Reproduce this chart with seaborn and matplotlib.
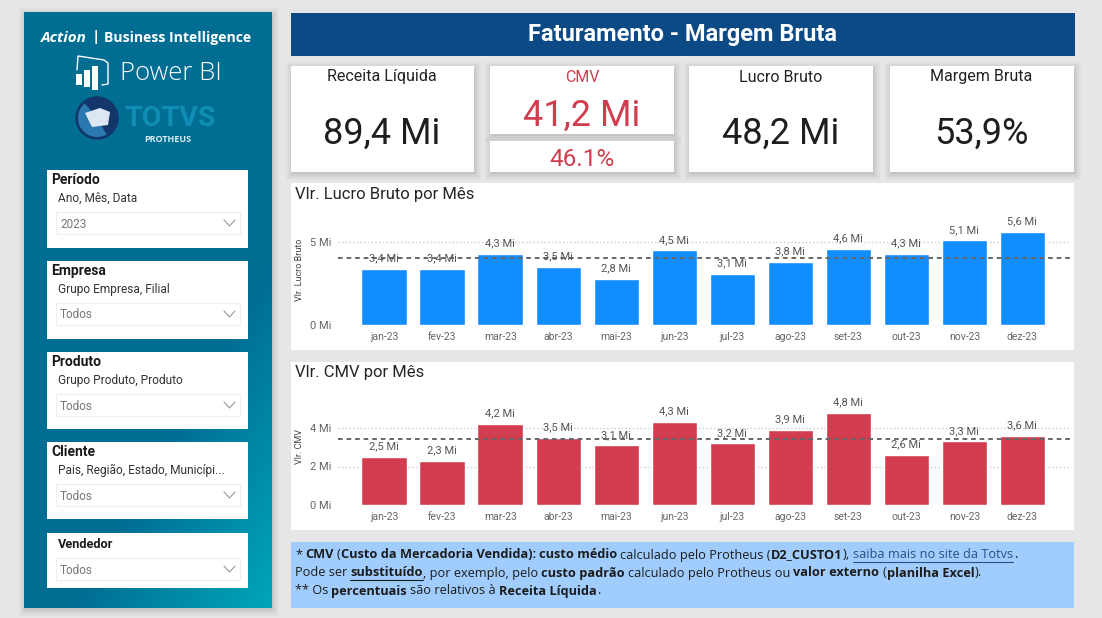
import numpy as np
import pandas as pd
import seaborn as sns
import matplotlib.pyplot as plt
from matplotlib.patches import Rectangle, Circle, Wedge, Polygon

meses = ["jan-23", "fev-23", "mar-23", "abr-23", "mai-23", "jun-23",
         "jul-23", "ago-23", "set-23", "out-23", "nov-23", "dez-23"]
lucro = [3.4, 3.4, 4.3, 3.5, 2.8, 4.5, 3.1, 3.8, 4.6, 4.3, 5.1, 5.6]
cmv = [2.5, 2.3, 4.2, 3.5, 3.1, 4.3, 3.2, 3.9, 4.8, 2.6, 3.3, 3.6]
lucro_media = 4.02
cmv_media = 3.43
lucro_ticks = [0, 5]
cmv_ticks = [0, 2, 4]

sns.set_theme(style="white")
plt.rcParams["font.family"] = ["Roboto", "DejaVu Sans"]

W, H = 1102, 618
fig = plt.figure(figsize=(W / 100, H / 100), dpi=100, facecolor="#e6e6e6")
bg = fig.add_axes([0, 0, 1, 1])
bg.set_xlim(0, W)
bg.set_ylim(H, 0)
bg.axis("off")


def box(x0, y0, x1, y1, color="white", shadow=False, z=2):
    if shadow:
        for i, a in zip([7, 5, 3, 1], [0.05, 0.07, 0.09, 0.12]):
            bg.add_patch(Rectangle((x0 - i + 2, y0 - i + 3), x1 - x0 + 2 * i - 2, y1 - y0 + 2 * i - 2,
                                   color="#777777", alpha=a, lw=0, zorder=z - 0.5))
    bg.add_patch(Rectangle((x0, y0), x1 - x0, y1 - y0, color=color, lw=0, zorder=z))


def txt(x, y, s, size, color="#222222", ha="left", va="center", weight="normal", **kw):
    return bg.text(x, y, s, fontsize=size, color=color, ha=ha, va=va, weight=weight, zorder=6, **kw)


# sidebar
box(24, 12, 272, 608, color="#006f94", shadow=True)
u, v = np.meshgrid(np.linspace(0, 1, 120), np.linspace(0, 1, 200))
t = np.clip((u + 1.4 * v - 1.6) / 0.8, 0, 1)[..., None]
grad = (1 - t) * np.array([0, 0.43, 0.58]) + t * np.array([0, 0.65, 0.73])
bg.imshow(grad, extent=(24, 272, 608, 12), aspect="auto", zorder=2.1, interpolation="bilinear")
bg.set_xlim(0, W)
bg.set_ylim(H, 0)

txt(41, 38, "Action", 11, "white", weight="bold", style="italic", family="Open Sans")
txt(92, 37, "|", 11, "white", weight="bold", family="Open Sans")
txt(104, 38, "Business Intelligence", 10.1, "white", weight="bold", family="Open Sans")

# marca do Power BI
for x0, y0, y1 in [(76, 74, 85), (84, 70, 87), (92, 66, 90)]:
    box(x0, y0, x0 + 5.5, y1, z=3)
bg.plot([77, 78, 104, 108, 108, 102], [70, 56, 60, 63, 84, 85], color="white", lw=1, zorder=3)
txt(120, 74, "Power BI", 18.5, "white", family="Open Sans", weight="light")

# marca da Totvs
bg.add_patch(Circle((97, 118), 21, color="#14376b", zorder=3))
bg.add_patch(Wedge((97, 118), 19, 60, 230, color="#2a78b0", lw=0, zorder=3.1))
bg.add_patch(Polygon([[85, 113], [100, 108], [110, 112], [108, 125], [92, 127]], color="#dde7f2", lw=0, zorder=3.2))
txt(124, 118, "TOTVS", 20.5, "#0f8db5", weight="bold")
txt(168, 139, "PROTHEUS", 6.5, "#dceef5", ha="center", weight="bold", family="Open Sans")

# filtros
slicers = [
    (170, 248, "Período", "Ano, Mês, Data", "2023"),
    (261, 339, "Empresa", "Grupo Empresa, Filial", "Todos"),
    (352, 429, "Produto", "Grupo Produto, Produto", "Todos"),
    (442, 519, "Cliente", "Pais, Região, Estado, Municípi...", "Todos"),
]
for top, bottom, titulo, campos, valor in slicers:
    box(47, top, 248, bottom, z=3)
    txt(51, top + 10, titulo, 10, "#1a1a1a", weight="bold")
    txt(58, top + 28.5, campos, 8.6, "#333333")
    bg.add_patch(Rectangle((55.5, top + 41.5), 184, 22, fc="white", ec="#efefef", lw=0.8, zorder=4))
    txt(60, top + 54, valor, 8.5, "#777777")
    bg.plot([224, 229.5, 235], [top + 50, top + 56, top + 50], color="#999999", lw=0.8, zorder=5)

box(47, 533, 248, 588, z=3)
txt(58, 544, "Vendedor", 9.2, "#1a1a1a", weight="bold")
bg.add_patch(Rectangle((55.5, 557.5), 184, 22, fc="white", ec="#efefef", lw=0.8, zorder=4))
txt(60, 570, "Todos", 8.5, "#777777")
bg.plot([224, 229.5, 235], [566, 572, 566], color="#999999", lw=0.8, zorder=5)

# titulo
box(291, 13, 1075, 56, color="#0b4a84")
txt(683, 35, "Faturamento - Margem Bruta", 17, "white", ha="center", weight="bold")

# cards
RED = "#d13d4f"
for x0, x1, titulo, valor in [(291, 474, "Receita Líquida", "89,4 Mi"),
                              (689, 873, "Lucro Bruto", "48,2 Mi"),
                              (890, 1074, "Margem Bruta", "53,9%")]:
    box(x0, 66, x1, 172, shadow=True)
    txt((x0 + x1) / 2 - 0.5, 77, titulo, 11.5, ha="center")
    txt((x0 + x1) / 2 - 0.5, 134, valor, 26, "#1e1e1e", ha="center")
box(490, 66, 674, 134, shadow=True)
box(490, 141, 674, 172, shadow=True)
txt(582, 77, "CMV", 11.5, RED, ha="center")
txt(582, 116, "41,2 Mi", 26, RED, ha="center")
txt(582, 160, "46.1%", 17.5, RED, ha="center")

# paineis dos graficos
box(291, 183, 1074, 350)
box(291, 362, 1074, 530)
txt(295, 194, "Vlr. Lucro Bruto por Mês", 12, "#252525")
txt(295, 373, "Vlr. CMV por Mês", 12, "#252525")


def chart(top, zero, px_unit, valores, media, ticks, cor):
    # axes em pixels da imagem: x de 338 a 1070, y de top ate a linha do zero
    ax = fig.add_axes([338 / W, 1 - zero / H, (1070 - 338) / W, (zero - top) / H])
    ax.patch.set_alpha(0)
    df = pd.DataFrame({"mes": meses, "valor": valores})
    sns.barplot(data=df, x="mes", y="valor", color=cor, saturation=1, width=0.79, ax=ax, zorder=3)
    ax.set_xlim(-0.80, 11.82)
    ax.set_ylim(0, (zero - top) / px_unit)
    ax.set_yticks(ticks, [f"{v} Mi" for v in ticks])
    ax.set_xlabel("")
    ax.set_ylabel("")
    ax.tick_params(axis="x", length=0, labelsize=7.5, labelcolor="#666666", pad=5)
    ax.tick_params(axis="y", length=0, labelsize=8, labelcolor="#666666", pad=5)
    ax.grid(axis="y", color="#cccccc", ls=":", lw=1, zorder=0)
    sns.despine(ax=ax, left=True, bottom=True)
    ax.bar_label(ax.containers[0], labels=[f"{v:.1f} Mi".replace(".", ",") for v in valores],
                 fontsize=8, color="#555555", padding=4, zorder=6)
    ax.axhline(media, color="#666666", ls=(0, (2.4, 2)), lw=1.4, zorder=5)
    return ax


ax1 = chart(200, 325, 16.6, lucro, lucro_media, lucro_ticks, "#118dff")
ax2 = chart(380, 505, 19.25, cmv, cmv_media, cmv_ticks, "#d13d4f")
txt(299, 270, "Vlr. Lucro Bruto", 6.5, "#444444", ha="center", rotation=90)
txt(299, 447, "Vlr. CMV", 6.5, "#444444", ha="center", rotation=90)

# nota de rodape
box(291, 542, 1074, 608, color="#a0cdfd")
rend = fig.canvas.get_renderer()
NOTE = "#1c1c1c"


def runs(x, y, parts, size=10.5):
    for i, (s, kind) in enumerate(parts):
        weight = "bold" if kind in ("b", "bu") else "normal"
        color = "#2b4f86" if kind == "link" else NOTE
        h = txt(x, y, s, size, color, weight=weight, family="Open Sans")
        end = h.get_window_extent(rend).x1
        if kind in ("bu", "link"):
            bg.plot([x, end], [y + 7, y + 7], color=color, lw=0.8, zorder=6)
        seguinte = parts[i + 1][0][0] if i + 1 < len(parts) else " "
        x = end + (0.5 if s[-1] == "(" or seguinte in ",.)" else 3)


runs(295, 555, [("*", "n"), ("CMV", "b"), ("(", "n"), ("Custo da Mercadoria Vendida):", "b"),
                ("custo médio", "b"), ("calculado pelo Protheus (", "n"), ("D2_CUSTO1", "b"),
                ("),", "n"), ("saiba mais no site da Totvs", "link"), (".", "n")], 9.2)
runs(295, 573, [("Pode ser", "n"), ("substituído", "bu"), (", por exemplo, pelo", "n"),
                ("custo padrão", "b"), ("calculado pelo Protheus ou", "n"), ("valor externo", "b"),
                ("(", "n"), ("planilha Excel", "b"), (").", "n")], 9.2)
runs(295, 591, [("** Os", "n"), ("percentuais", "b"), ("são relativos à", "n"),
                ("Receita Líquida", "b"), (".", "n")], 9.2)

fig.savefig("out.png", dpi=100, facecolor=fig.get_facecolor())
